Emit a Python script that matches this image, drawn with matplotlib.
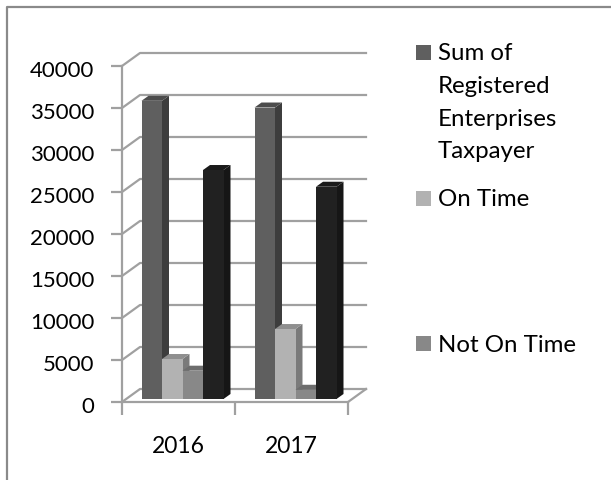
import numpy as np
import matplotlib
matplotlib.use("Agg")
import matplotlib.pyplot as plt
from matplotlib.lines import Line2D
from matplotlib.patches import Polygon, Rectangle
from matplotlib.transforms import ScaledTranslation

plt.rcParams['font.family'] = ['Lato', 'DejaVu Sans']

years = ['2016', '2017']
series_names = ['Sum of\nRegistered\nEnterprises\nTaxpayer', 'On Time', 'Not On Time', '']
registered = [35500, 34700]
on_time = [4760, 8330]
not_on_time = [3370, 1100]
fourth = [27260, 25270]
yticks = list(range(0, 40001, 5000))

W, H = 611, 481
GRID = '#a0a0a0'
fronts = ['#5f5f5f', '#b2b2b2', '#888888', '#212121']
sides = ['#3d3d3d', '#7a7a7a', '#5a5a5a', '#161616']
tops = ['#4c4c4c', '#8f8f8f', '#6d6d6d', '#1a1a1a']

fig = plt.figure(figsize=(W / 100, H / 100), dpi=100)
fig.patch.set_facecolor('white')
# outer frame, only the left and top sides are in the picture
fig.add_artist(Line2D([7.5 / W, 7.5 / W, 1], [0, 1 - 7.5 / H, 1 - 7.5 / H], transform=fig.transFigure,
                      color='#8a8a8a', lw=1.6))

ax = fig.add_axes([122 / W, 1 - 403 / H, 226 / W, 336 / H])
ax.set_xlim(0, 2)
ax.set_ylim(0, 40000)

# pixel sizes turned into data units
px_x = 2 / 226
px_y = 40000 / 336
wall_dx, wall_dy = 18 * px_x, 13 * px_y
bar_dx, bar_dy = 7 * px_x, 5 * px_y
base_y = 3 * px_y

for s in ['top', 'right']:
    ax.spines[s].set_visible(False)
for s in ['left', 'bottom']:
    ax.spines[s].set_color(GRID)
    ax.spines[s].set_linewidth(1.6)

# back wall gridlines with their slanted joins
for v in yticks:
    ax.plot([0, wall_dx, 2 + wall_dx], [v, v + wall_dy, v + wall_dy], color=GRID, lw=1.6,
            clip_on=False, zorder=1, solid_joinstyle='round')
ax.plot([2, 2 + wall_dx], [0, wall_dy], color=GRID, lw=1.6, clip_on=False, zorder=1)

bar_w = 20.5 * px_x
all_series = [registered, on_time, not_on_time, fourth]
for i in range(2):
    start = i + 19.5 * px_x
    for j, vals in enumerate(all_series):
        x0 = start + j * bar_w
        v = vals[i]
        z = 3 + j
        ax.add_patch(Polygon([(x0 + bar_w, base_y), (x0 + bar_w + bar_dx, base_y + bar_dy),
                              (x0 + bar_w + bar_dx, base_y + v + bar_dy), (x0 + bar_w, base_y + v)],
                             fc=sides[j], ec='none', clip_on=False, zorder=z))
        ax.add_patch(Polygon([(x0, base_y + v), (x0 + bar_w, base_y + v),
                              (x0 + bar_w + bar_dx, base_y + v + bar_dy), (x0 + bar_dx, base_y + v + bar_dy)],
                             fc=tops[j], ec='none', clip_on=False, zorder=z))
        ax.bar(x0, v, bar_w, bottom=base_y, align='edge', color=fronts[j], clip_on=False, zorder=z + 0.5)

ax.set_xticks([0, 1, 2])
ax.set_xticklabels([])
ax.set_xticks([0.5, 1.5], minor=True)
ax.set_xticklabels(years, minor=True)
ax.tick_params(axis='x', which='major', length=9, width=1.6, color=GRID)
ax.tick_params(axis='x', which='minor', length=0, labelsize=16.5, pad=24, labelcolor='black')
ax.set_yticks(yticks)
ax.tick_params(axis='y', length=8, width=1.6, color=GRID, labelsize=16, pad=12, labelcolor='black')

# tick labels sit a little lower than the tick marks
nudge = ScaledTranslation(0, -2.5 / 100, fig.dpi_scale_trans)
for lab in ax.get_yticklabels():
    lab.set_transform(lab.get_transform() + nudge)

# legend, placed by hand because the entries are unevenly spaced
swatch_top = [46, 192, 337]
for name, col, y in zip(series_names, fronts, swatch_top):
    fig.add_artist(Rectangle((416 / W, 1 - (y + 15) / H), 15 / W, 15 / H, transform=fig.transFigure,
                             fc=col, ec='none'))
    fig.text(438 / W, 1 - (y - 2.5) / H, name, fontsize=17.3, va='top', ha='left', color='black', linespacing=1.68)

fig.savefig('out.png', dpi=100)
